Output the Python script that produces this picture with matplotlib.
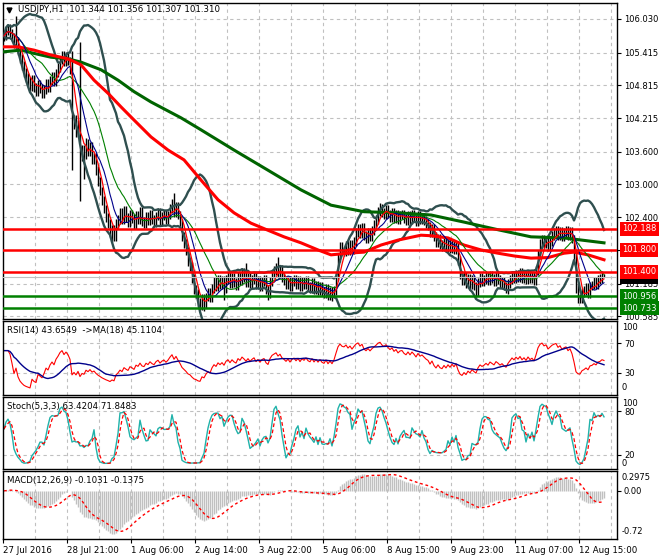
import numpy as np
import pandas as pd
import matplotlib
matplotlib.use("Agg")
import matplotlib.pyplot as plt
import matplotlib.transforms as mtrans

# USDJPY H1 closes, one per bar
closes = [
    105.72, 105.82, 105.86, 105.76, 105.70, 105.58, 105.62, 105.45, 105.30, 105.18,
    105.05, 104.96, 104.88, 104.80, 104.92, 104.78, 104.70, 104.84, 104.76, 104.66,
    104.74, 104.86, 104.78, 104.90, 104.98, 104.88, 105.04, 105.14, 105.28, 105.36,
    105.24, 105.34, 105.26, 105.10, 104.10, 104.20, 103.95, 104.10, 103.50, 103.65,
    103.55, 103.75, 103.60, 103.70, 103.45, 103.50, 103.25, 103.05, 102.88, 102.70,
    102.55, 102.40, 102.28, 102.12, 102.18, 102.05, 102.28, 102.36, 102.48, 102.35,
    102.52, 102.40, 102.30, 102.46, 102.38, 102.26, 102.44, 102.36, 102.50, 102.32,
    102.28, 102.42, 102.34, 102.46, 102.36, 102.30, 102.42, 102.48, 102.34, 102.42,
    102.46, 102.36, 102.44, 102.56, 102.66, 102.48, 102.60, 102.44, 102.28, 102.05,
    101.92, 101.78, 101.58, 101.50, 101.28, 101.08, 101.00, 100.84, 100.78, 100.92,
    100.82, 100.94, 101.02, 100.92, 101.10, 101.22, 101.12, 101.26, 101.16, 101.24,
    101.10, 101.26, 101.32, 101.18, 101.30, 101.20, 101.14, 101.32, 101.24, 101.38,
    101.30, 101.20, 101.30, 101.18, 101.26, 101.32, 101.16, 101.24, 101.12, 101.22,
    101.26, 101.08, 101.00, 101.22, 101.36, 101.42, 101.48, 101.36, 101.44, 101.30,
    101.24, 101.16, 101.24, 101.12, 101.22, 101.26, 101.16, 101.24, 101.12, 101.22,
    101.16, 101.24, 101.14, 101.10, 101.20, 101.08, 101.16, 101.06, 101.14, 101.04,
    101.00, 101.10, 100.96, 101.04, 100.94, 101.06, 101.32, 101.66, 101.86, 101.78,
    101.76, 101.88, 101.78, 101.90, 101.80, 101.96, 102.12, 102.20, 102.10, 102.22,
    102.06, 102.00, 102.12, 102.04, 102.16, 102.26, 102.36, 102.50, 102.56, 102.48,
    102.44, 102.54, 102.46, 102.40, 102.48, 102.38, 102.46, 102.36, 102.44, 102.46,
    102.38, 102.34, 102.44, 102.36, 102.46, 102.40, 102.32, 102.44, 102.36, 102.40,
    102.34, 102.28, 102.24, 102.12, 102.20, 102.04, 101.94, 102.02, 101.90, 101.86,
    101.94, 101.84, 101.92, 101.82, 101.90, 101.80, 101.88, 101.60, 101.34, 101.24,
    101.32, 101.18, 101.28, 101.16, 101.26, 101.14, 101.04, 101.20, 101.30, 101.22,
    101.26, 101.32, 101.24, 101.34, 101.28, 101.22, 101.32, 101.26, 101.18, 101.22,
    101.14, 101.08, 101.18, 101.26, 101.34, 101.28, 101.36, 101.30, 101.38, 101.28,
    101.34, 101.26, 101.36, 101.28, 101.32, 101.24, 101.42, 101.72, 101.92, 102.00,
    101.92, 101.98, 101.86, 101.96, 102.06, 102.12, 102.16, 102.06, 102.14, 102.04,
    102.12, 102.16, 102.06, 102.14, 102.00, 101.70, 101.10, 100.92, 100.90, 101.02,
    101.06, 101.12, 101.00, 101.14, 101.16, 101.22, 101.16, 101.26, 101.28, 101.34,
    101.31,
]
first_open = 105.70
wick = 0.08
# bars whose high / low sticks out further
spike_high = {6: 106.08, 34: 105.45, 38: 105.60, 41: 103.85, 85: 102.84,
              121: 101.56, 137: 101.67, 188: 102.66, 300: 101.356}
spike_low = {34: 103.26, 38: 102.70, 40: 103.10, 54: 101.95, 100: 100.68,
             110: 100.88, 132: 100.88, 165: 100.92, 236: 100.94, 251: 101.02,
             287: 100.83, 300: 101.307}

# slow moving averages (they start before the visible bars), read at points
ma_red_idx = [0, 7, 15, 23.5, 32, 38.5, 45, 52, 58.5, 65, 73.5, 82, 90, 98.5,
              107, 115, 123.5, 132, 140, 148.5, 157, 163.5, 172, 180, 188.5,
              197, 208.5, 213.5, 222, 230, 238.5, 247, 255, 263.5, 272, 280,
              285, 292, 300]
ma_red_val = [105.52, 105.52, 105.46, 105.37, 105.30, 105.19, 104.91, 104.67,
              104.42, 104.18, 103.87, 103.63, 103.45, 103.08, 102.72, 102.48,
              102.29, 102.16, 102.04, 101.93, 101.80, 101.71, 101.74, 101.76,
              101.89, 101.98, 102.07, 102.06, 102.02, 101.89, 101.80, 101.74,
              101.69, 101.65, 101.66, 101.74, 101.76, 101.71, 101.62]
ma_green_idx = [0, 8.5, 15, 23.5, 32, 38.5, 48.5, 57, 65, 73.5, 88.5, 98.5,
                115, 132, 148.5, 163.5, 180, 197, 213.5, 230, 247, 263.5, 280, 300]
ma_green_val = [105.43, 105.46, 105.40, 105.33, 105.30, 105.24, 105.10, 104.91,
                104.70, 104.51, 104.22, 104.00, 103.63, 103.26, 102.90, 102.62,
                102.50, 102.48, 102.44, 102.31, 102.17, 102.04, 102.02, 101.93]

red_levels = [102.188, 101.800, 101.400]
green_levels = [100.956, 100.733]
bid = 101.310

price_ticks = [106.030, 105.415, 104.815, 104.215, 103.600, 103.000,
               102.400, 101.800, 101.185, 100.585]
date_labels = ["27 Jul 2016", "28 Jul 21:00", "1 Aug 06:00", "2 Aug 14:00",
               "3 Aug 22:00", "5 Aug 06:00", "8 Aug 15:00", "9 Aug 23:00",
               "11 Aug 07:00", "12 Aug 15:00"]

plt.rcParams["font.family"] = ["DejaVu Sans"]
plt.rcParams["font.size"] = 6

# --- indicators from the bars ---
close = pd.Series(closes)
n = len(close)
idx = np.arange(n)
opn = close.shift(1).fillna(first_open)
high = np.maximum(opn, close) + wick
low = np.minimum(opn, close) - wick
for k, v in spike_high.items():
    high[k] = v
for k, v in spike_low.items():
    low[k] = v

sma5 = close.rolling(5, min_periods=1).mean()
sma10 = close.rolling(10, min_periods=1).mean()
sma20 = close.rolling(20, min_periods=1).mean()
bb_std = close.rolling(20, min_periods=1).std(ddof=0)
bb_up = sma20 + 2 * bb_std
bb_dn = sma20 - 2 * bb_std

delta = close.diff().fillna(0)
gain = delta.clip(lower=0).ewm(alpha=1 / 14, adjust=False).mean()
loss = (-delta.clip(upper=0)).ewm(alpha=1 / 14, adjust=False).mean()
rsi = 100 - 100 / (1 + gain / loss.replace(0, np.nan))
rsi = rsi.fillna(60)
rsi_ma = rsi.rolling(18, min_periods=1).mean()

ll = low.rolling(5, min_periods=1).min()
hh = high.rolling(5, min_periods=1).max()
st_k = 100 * (close - ll).rolling(3, min_periods=1).sum() / (hh - ll).rolling(3, min_periods=1).sum()
st_d = st_k.rolling(3, min_periods=1).mean()

ema12 = close.ewm(span=12, adjust=False).mean()
ema26 = close.ewm(span=26, adjust=False).mean()
macd = ema12 - ema26
macd_sig = macd.rolling(9, min_periods=1).mean()

# --- layout in pixels, like the terminal window ---
W, H = 660, 560
fig = plt.figure(figsize=(W / 100, H / 100), dpi=100)


def add_panel(top, bottom):
    a = fig.add_axes([3 / W, 1 - bottom / H, 614 / W, (bottom - top) / H])
    a.set_xlim(-0.5, 306.5)
    a.set_xticks([])
    for s in a.spines.values():
        s.set_color("black")
        s.set_linewidth(1)
    for k in range(1, 20):
        a.axvline(16 * k - 0.5, color="#c0c0c0", lw=0.8, ls=(0, (3, 3)), zorder=0)
    a.yaxis.tick_right()
    a.tick_params(axis="y", length=3, width=0.8, pad=2, labelsize=6)
    return a


def edge_label(a, value, text, dy):
    a.annotate(text, xy=(1, value), xycoords=("axes fraction", "data"),
               xytext=(5, dy), textcoords="offset pixels", va="center",
               ha="left", fontsize=6, annotation_clip=False)


ax = add_panel(3, 319)
ax_rsi = add_panel(321, 395)
ax_st = add_panel(397, 469)
ax_m = add_panel(471, 539)

# main chart
ax.set_ylim(100.535, 106.323)
ax.set_yticks(price_ticks)
# 101.800 sits under its own level box, so leave that tick text blank
ax.set_yticklabels(["" if p in red_levels else f"{p:.3f}" for p in price_ticks])
for p in price_ticks:
    ax.axhline(p, color="#c0c0c0", lw=0.8, ls=(0, (3, 3)), zorder=0)

ax.vlines(idx, low, high, color="black", lw=1.0, zorder=2)
ax.plot(idx, bb_up, color="#2f4f4f", lw=1.7, zorder=3)
ax.plot(idx, bb_dn, color="#2f4f4f", lw=1.7, zorder=3)
ax.plot(ma_green_idx, ma_green_val, color="#006400", lw=2.2, zorder=3)
ax.plot(ma_red_idx, ma_red_val, color="red", lw=2.2, zorder=3)
ax.plot(idx, sma20, color="green", lw=0.8, zorder=4)
ax.plot(idx, sma10, color="#00008b", lw=0.8, zorder=4)
ax.plot(idx, sma5, color="red", lw=0.9, zorder=4)

ax.axhline(bid, color="#c0c0c0", lw=0.8, zorder=4)
for lv in red_levels:
    ax.axhline(lv, color="red", lw=1.8, zorder=5)
for lv in green_levels:
    ax.axhline(lv, color="green", lw=1.8, zorder=5)

yx = mtrans.blended_transform_factory(ax.transAxes, ax.transData)
box = dict(boxstyle="square,pad=0.28", edgecolor="none")
ax.text(1.008, bid, f"{bid:.3f}", transform=yx, color="white", va="center",
        ha="left", fontsize=6, bbox=dict(box, facecolor="black"), zorder=6, clip_on=False)
for lv in red_levels:
    ax.text(1.008, lv, f"{lv:.3f}", transform=yx, color="white", va="center",
            ha="left", fontsize=6, bbox=dict(box, facecolor="red"), zorder=7, clip_on=False)
for lv in green_levels:
    ax.text(1.008, lv, f"{lv:.3f}", transform=yx, color="white", va="center",
            ha="left", fontsize=6, bbox=dict(box, facecolor="green"), zorder=7, clip_on=False)

ax.plot([6 / 614], [1 - 7 / 316], marker="v", color="black", ms=3.5,
        transform=ax.transAxes, clip_on=False)
ax.annotate("USDJPY,H1  101.344 101.356 101.307 101.310", xy=(0, 1),
            xycoords="axes fraction", xytext=(15, -7), textcoords="offset pixels",
            va="center", ha="left", fontsize=6.2)

# RSI
ax_rsi.set_ylim(0, 100)
ax_rsi.set_yticks([70, 30])
for lv in (70, 30):
    ax_rsi.axhline(lv, color="#c0c0c0", lw=0.8, ls=(0, (3, 3)), zorder=0)
ax_rsi.plot(idx, rsi, color="red", lw=0.8)
ax_rsi.plot(idx, rsi_ma, color="#00008b", lw=1.0)
edge_label(ax_rsi, 100, "100", -7)
edge_label(ax_rsi, 0, "0", 7)
ax_rsi.annotate("RSI(14) 43.6549  ->MA(18) 45.1104", xy=(0, 1), xycoords="axes fraction",
                xytext=(4, -10), textcoords="offset pixels", va="center", fontsize=6.2)

# Stochastic
ax_st.set_ylim(0, 100)
ax_st.set_yticks([80, 20])
for lv in (80, 20):
    ax_st.axhline(lv, color="#c0c0c0", lw=0.8, ls=(0, (3, 3)), zorder=0)
ax_st.plot(idx, st_k, color="#20b2aa", lw=1.0)
ax_st.plot(idx, st_d, color="red", lw=0.9, ls=(0, (3, 2)))
edge_label(ax_st, 100, "100", -7)
edge_label(ax_st, 0, "0", 6)
ax_st.annotate("Stoch(5,3,3) 63.4204 71.8483", xy=(0, 1), xycoords="axes fraction",
               xytext=(4, -10), textcoords="offset pixels", va="center", fontsize=6.2)

# MACD
ax_m.set_ylim(-0.72, 0.2975)
ax_m.set_yticks([0])
ax_m.set_yticklabels(["0.00"])
ax_m.vlines(idx, 0, macd, color="#c0c0c0", lw=1.0)
ax_m.plot(idx, macd_sig, color="red", lw=1.0, ls=(0, (2, 2)))
edge_label(ax_m, 0.2975, "0.2975", -7)
edge_label(ax_m, -0.72, "-0.72", 7)
ax_m.annotate("MACD(12,26,9) -0.1031 -0.1375", xy=(0, 1), xycoords="axes fraction",
              xytext=(4, -10), textcoords="offset pixels", va="center", fontsize=6.2)

ax_m.set_xticks([32 * k - 0.5 for k in range(len(date_labels))])
ax_m.set_xticklabels(date_labels)
ax_m.tick_params(axis="x", length=3, width=0.8, pad=2, labelsize=6.2)
for t in ax_m.get_xticklabels():
    t.set_horizontalalignment("left")

fig.savefig("out.png", dpi=100, facecolor="white")
